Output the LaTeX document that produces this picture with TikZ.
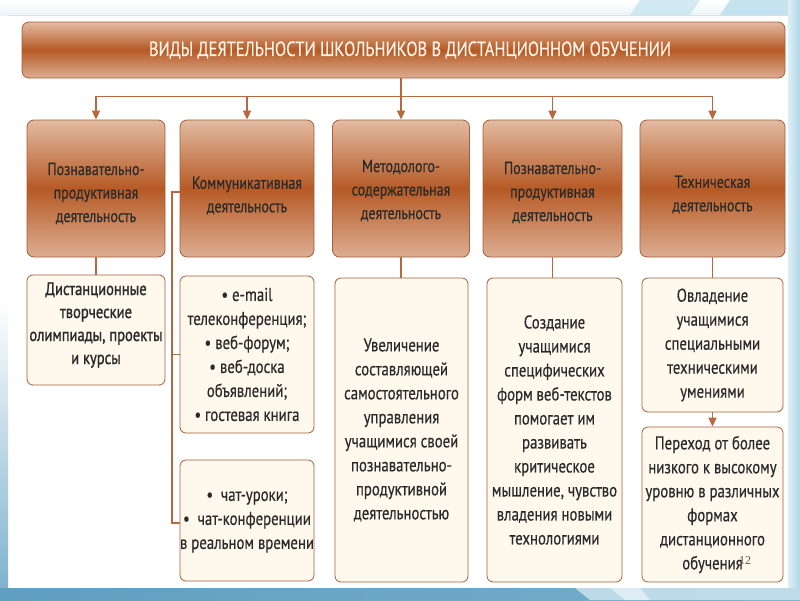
\documentclass[tikz,border=0pt]{standalone}
\usepackage{fontspec}
\setmainfont{PT Sans}[FakeStretch=0.8, FakeBold=0.4]
\newfontfamily\boldish{PT Sans}[FakeStretch=0.8, FakeBold=1.2]
\newfontfamily\numfont{Liberation Serif}
\usetikzlibrary{arrows.meta,calc}
\definecolor{brd}{HTML}{A65F3A}
\definecolor{ln}{HTML}{B5693F}
\definecolor{bxlight}{HTML}{E3BBA2}
\definecolor{bxlightb}{HTML}{DCAE93}
\definecolor{bxdark}{HTML}{B65A25}
\definecolor{cream}{HTML}{FFF8EC}
\definecolor{txt}{HTML}{2A2A2A}
\definecolor{ttl}{HTML}{FFF4EA}
\definecolor{bluedk}{HTML}{5F9FC2}
\definecolor{bluelt}{HTML}{B9DDEC}
\definecolor{bluepale}{HTML}{DDEFF6}
\begin{document}
\begin{tikzpicture}[x=1pt,y=-1pt,
  titlebox/.style={draw=brd, line width=0.8pt, rounded corners=7pt,
    top color=bxlight, bottom color=bxlightb, middle color=bxdark,
    minimum width=763pt, minimum height=56pt, inner sep=0pt},
  titletext/.style={text=ttl, inner sep=0pt, font=\fontsize{20.5}{22}\selectfont},
  topbox/.style={draw=brd, line width=0.8pt, rounded corners=7pt,
    top color=bxlight, bottom color=bxlightb, middle color=bxdark,
    minimum height=137pt, inner sep=0pt},
  toptext/.style={align=center, text=txt, inner sep=0pt,
    font=\fontsize{17.5}{23.5}\selectfont},
  lowbox/.style={draw=brd, line width=0.8pt, rounded corners=6pt, fill=cream,
    inner sep=0pt, align=center, text=txt,
    font=\fontsize{18.5}{24}\selectfont},
  conn/.style={draw=ln, line width=1.6pt},
  arr/.style={conn, -{Triangle[length=9pt,width=8pt]}}
]
\useasboundingbox (0,0) rectangle (800,600);
% background frame
\fill[white] (0,0) rectangle (800,600);
\shade[top color=white, bottom color=bluepale!60] (0,0) rectangle (800,15);
\fill[bluelt, opacity=0.6] (640,0) -- (700,0) -- (690,15) -- (630,15) -- cycle;
\fill[bluelt, opacity=0.8] (730,0) -- (800,0) -- (800,15) -- (720,15) -- cycle;
\draw[gray!25, line width=0.6pt] (8,15) -- (788,15);
\shade[left color=bluepale, right color=bluelt!90!bluedk] (788,0) rectangle (800,600);
\shade[top color=white, bottom color=bluedk!80] (0,300) rectangle (8,588);
\shade[left color=bluedk, right color=bluedk!85] (0,588) rectangle (800,600);
\fill[bluepale, opacity=0.7] (575,588) -- (800,588) -- (800,600) -- (590,600) -- cycle;
\fill[white, opacity=0.5] (610,588) -- (640,588) -- (650,600) -- (625,600) -- cycle;

% title
\node[titlebox] (title) at (403.5,50) {};
\node[titletext] (titlex) at (410,50) {ВИДЫ ДЕЯТЕЛЬНОСТИ ШКОЛЬНИКОВ В ДИСТАНЦИОННОМ ОБУЧЕНИИ};

% top row
\node[topbox, minimum width=138pt] (t1) at (96,188.5) {};
\node[topbox, minimum width=134pt] (t2) at (247,188.5) {};
\node[topbox, minimum width=137pt] (t3) at (401,188.5) {};
\node[topbox, minimum width=139pt] (t4) at (552.5,188.5) {};
\node[topbox, minimum width=145pt] (t5) at (712.5,188.5) {};
\node[toptext] (t1x) at ($(t1.center)+(0,5)$) {Познавательно-\\продуктивная\\деятельность};
\node[toptext] (t2x) at ($(t2.center)+(0,7)$) {Коммуникативная\\деятельность};
\node[toptext] (t3x) at ($(t3.center)+(0,2)$) {Методолого-\\содержательная\\деятельность};
\node[toptext] (t4x) at ($(t4.center)+(0,4)$) {Познавательно-\\продуктивная\\деятельность};
\node[toptext] (t5x) at ($(t5.center)+(0,6)$) {Техническая\\деятельность};

% lower boxes
\node[lowbox, minimum width=138pt, minimum height=110pt] (l1) at (96,330) {};
\node[align=center, text=txt, inner sep=0pt, font=\boldish\fontsize{18.2}{23}\selectfont] (l1x) at (96,325) {Дистанционные\\творческие\\олимпиады, проекты\\и курсы};
\node[lowbox, minimum width=134pt, minimum height=157pt] (l2a) at (247,354.5) {• e-mail\\телеконференция;\\• веб-форум;\\• веб-доска\\объявлений;\\• гостевая книга};
\node[lowbox, minimum width=134pt, minimum height=121pt] (l2b) at (247,520.5) {};
\node[align=center, text=txt, inner sep=0pt, font=\fontsize{18.5}{24}\selectfont] (l2bx) at (247,522) {•\ \ чат-уроки;\\•\ \ чат-конференции\\в реальном времени};
\node[lowbox, minimum width=133pt, minimum height=304pt] (l3) at (401.5,430) {Увеличение\\составляющей\\самостоятельного\\управления\\учащимися своей\\познавательно-\\продуктивной\\деятельностью};
\node[lowbox, minimum width=135pt, minimum height=304pt] (l4) at (554.5,430) {Создание\\учащимися\\специфических\\форм веб-текстов\\помогает им\\развивать\\критическое\\мышление, чувство\\владения новыми\\технологиями};
\node[lowbox, minimum width=141pt, minimum height=134pt] (l5a) at (712.5,345) {Овладение\\учащимися\\специальными\\техническими\\умениями};
\node[lowbox, minimum width=141pt, minimum height=155pt] (l5b) at (712.5,504.5) {Переход от более\\низкого к высокому\\уровню в различных\\формах\\дистанционного\\обучения};
\node[text=gray!70!black, font=\numfont\fontsize{12}{13}\selectfont, inner sep=0pt] (pg) at (745,561) {12};

% connectors
\draw[conn] (title.south -| t3.north) -- ++(0,18) coordinate (hub);
\draw[conn] (hub -| t1.north) -- (hub -| t5.north);
\draw[arr] (hub -| t1.north) -- (t1.north);
\draw[arr] (hub -| t2.north) -- (t2.north);
\draw[arr] (hub) -- (t3.north);
\draw[arr] (hub -| t4.north) -- (t4.north);
\draw[arr] (hub -| t5.north) -- (t5.north);

\draw[conn] (t1.south) -- (t1.south |- l1.north);
\coordinate (bx) at (172,0);
\draw[conn] ([yshift=-3.5pt]t2.west) -- ([yshift=-3.5pt]t2.west -| bx) -- ([yshift=-2.5pt]l2b.west -| bx) -- ([yshift=-2.5pt]l2b.west);
\draw[conn] (l2a.west -| bx) -- (l2a.west);
\draw[conn] (t3.south) -- (t3.south |- l3.north);
\draw[conn] (t4.south) -- (t4.south |- l4.north);
\draw[conn] (t5.south) -- (t5.south |- l5a.north);
\draw[arr] (l5a.south) -- (l5b.north);
\end{tikzpicture}
\end{document}
